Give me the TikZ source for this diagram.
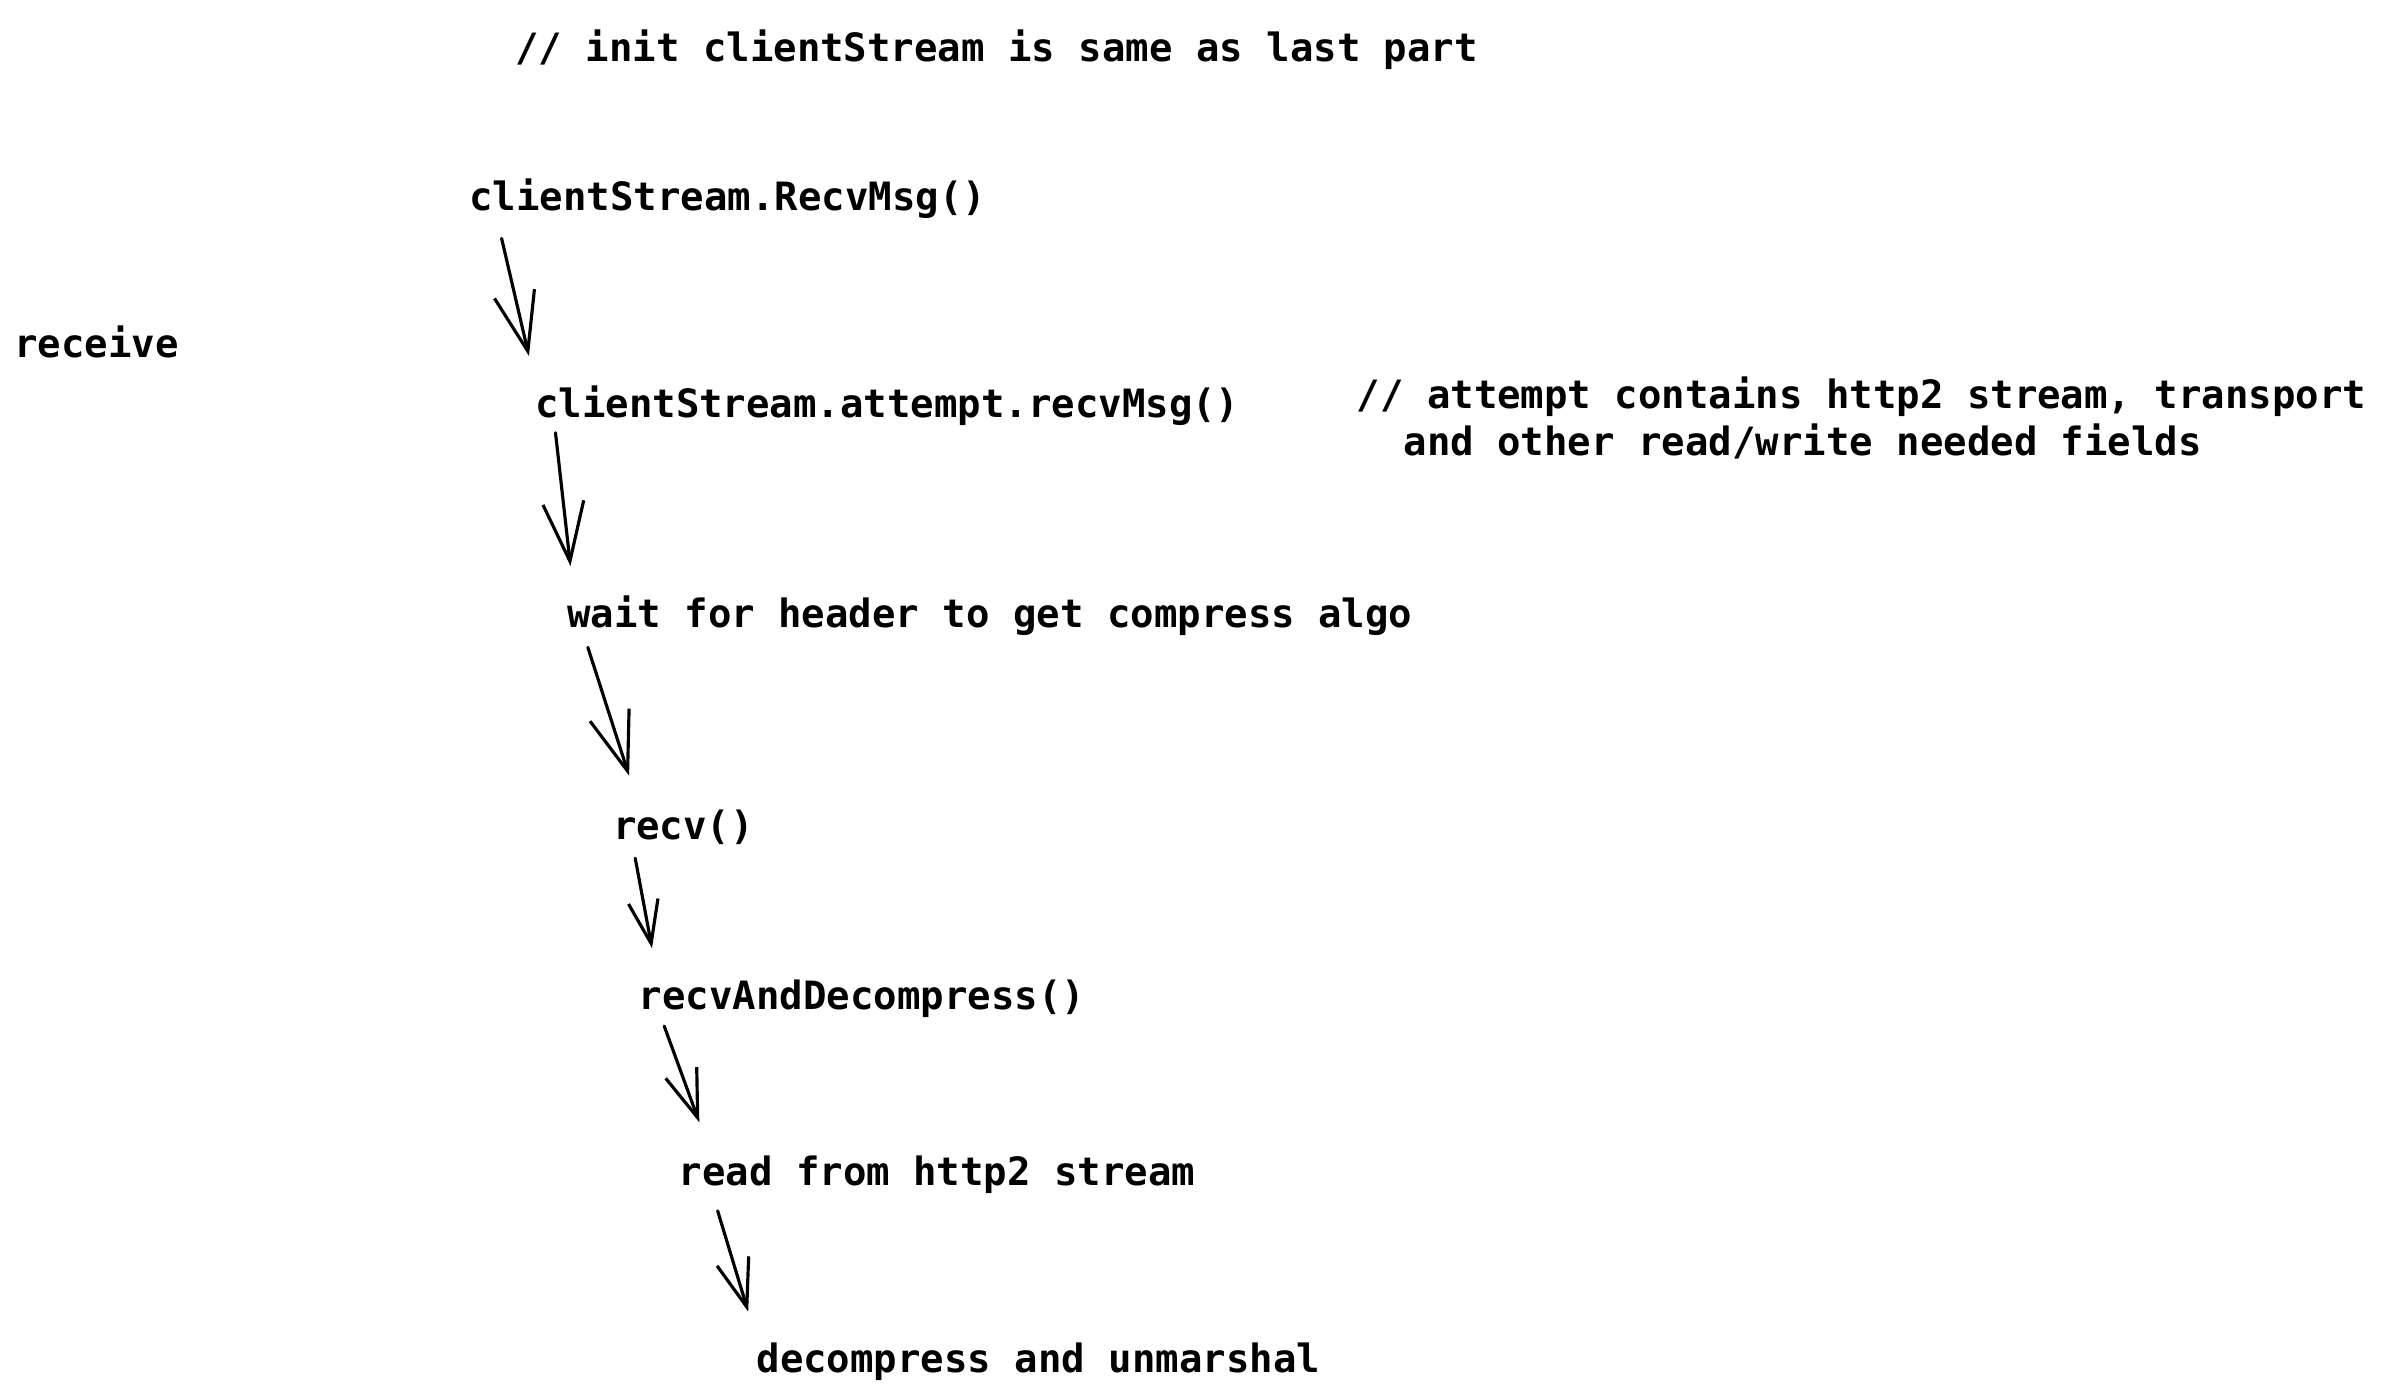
\documentclass[tikz,border=0pt]{standalone}
\usepackage{fontspec}
\setmonofont{DejaVu Sans Mono}
\usetikzlibrary{arrows.meta}
\usetikzlibrary{calc}

\tikzset{
  code/.style={anchor=base west,inner sep=0pt},
  flow/.style 2 args={line width=0.9pt,line cap=round,line join=round,
    -{Straight Barb[length=#1,width=#2]}}
}

\begin{document}
\begin{tikzpicture}[x=0.01527cm,y=-0.01527cm]
  \fill[white] (0,0) rectangle (1560,916.2);
  \useasboundingbox (0,0) rectangle (1560,916.2);
  \fontsize{11.1}{13.55}\selectfont\ttfamily\bfseries
  \node[code] (init) at (337,40) {// init clientStream is same as last part};
  \node[code] (recvmsg) at (307,137.8) {clientStream.RecvMsg()};
  \node[code] (receive) at (9,234) {receive};
  \node[code] (attempt) at (350,273.3) {clientStream.attempt.recvMsg()};
  \node[code,align=left] (note) at (888,298.6) {// attempt contains http2 stream, transport\\\hphantom{//}and other read/write needed fields};
  \node[code] (header) at (371,410.9) {wait for header to get compress algo};
  \node[code] (recv) at (401,550) {recv()};
  \node[code] (decomp) at (418,661.3) {recvAndDecompress()};
  \node[code] (read) at (444,776.7) {read from http2 stream};
  \node[code] (unmarshal) at (495,898.9) {decompress and unmarshal};

  \draw[flow={5.9mm}{4.1mm}] ($(recvmsg.base west)+(21.5,18.3)$) -- ($(attempt.base west)+(-3.6,-40.2)$);
  \draw[flow={5.9mm}{4.1mm}] ($(attempt.base west)+(13.8,10.1)$) -- ($(header.base west)+(2.6,-40.2)$);
  \draw[flow={5.9mm}{4.1mm}] ($(header.base west)+(14,13.1)$) -- ($(recv.base west)+(11,-42)$);
  \draw[flow={4.3mm}{3mm}] ($(recv.base west)+(15,12)$) -- ($(decomp.base west)+(9,-40.3)$);
  \draw[flow={4.8mm}{3.3mm}] ($(decomp.base west)+(17,10.7)$) -- ($(read.base west)+(14,-41.7)$);
  \draw[flow={4.8mm}{3.3mm}] ($(read.base west)+(26,16.3)$) -- ($(unmarshal.base west)+(-5,-39.9)$);
\end{tikzpicture}
\end{document}
